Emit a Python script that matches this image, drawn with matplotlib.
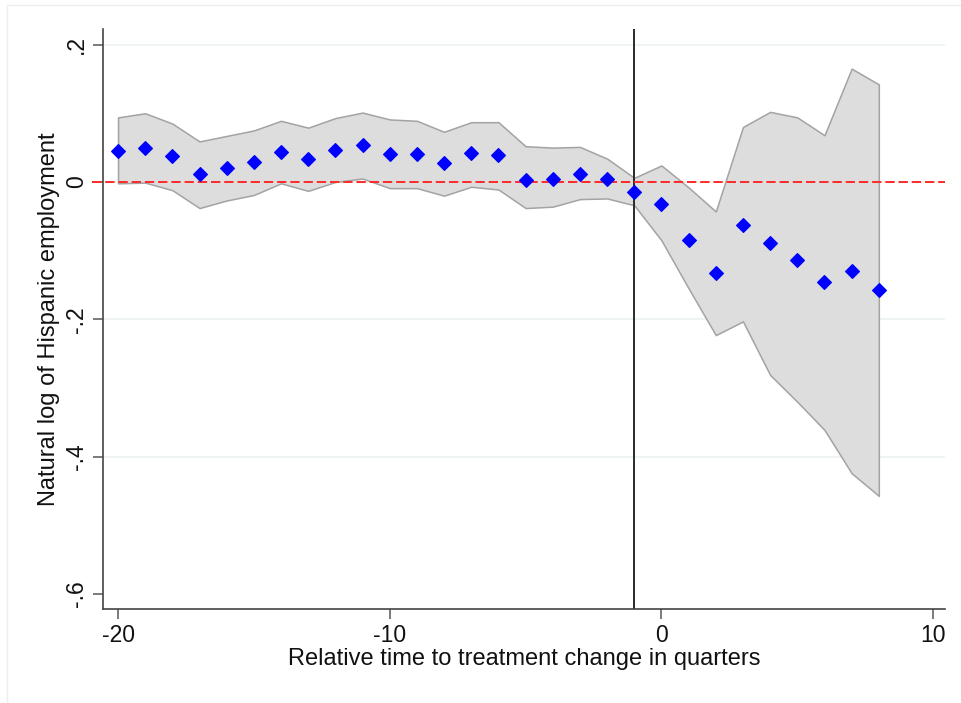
import matplotlib
matplotlib.use("Agg")
import matplotlib.pyplot as plt
from matplotlib.patches import Rectangle

plt.rcParams['font.family'] = ['Liberation Sans', 'DejaVu Sans']

# Event-time (quarters relative to treatment change)
rel_time = list(range(-20, 9))

# Point estimates
coef = [0.045, 0.050, 0.038, 0.011, 0.020, 0.029, 0.043, 0.033, 0.046, 0.054,
        0.041, 0.041, 0.027, 0.042, 0.039, 0.003, 0.004, 0.012, 0.004, -0.015,
        -0.032, -0.085, -0.133, -0.062, -0.089, -0.113, -0.146, -0.130, -0.158]

# Confidence interval bounds
ci_upper = [0.094, 0.100, 0.085, 0.059, 0.067, 0.075, 0.089, 0.079, 0.093, 0.101,
            0.091, 0.089, 0.073, 0.087, 0.087, 0.052, 0.050, 0.051, 0.034, 0.006,
            0.024, -0.008, -0.043, 0.080, 0.102, 0.094, 0.068, 0.165, 0.142]
ci_lower = [-0.002, -0.001, -0.012, -0.038, -0.027, -0.019, -0.002, -0.013, 0.000, 0.005,
            -0.009, -0.009, -0.020, -0.007, -0.011, -0.038, -0.036, -0.025, -0.024, -0.034,
            -0.085, -0.155, -0.223, -0.203, -0.281, -0.320, -0.361, -0.424, -0.457]

x_ticks = [-20, -10, 0, 10]
x_tick_labels = ["-20", "-10", "0", "10"]
y_ticks = [0.2, 0.0, -0.2, -0.4, -0.6]
y_tick_labels = [".2", "0", "-.2", "-.4", "-.6"]
grid_levels = [0.2, 0.0, -0.2, -0.4]
treatment_line = -1

fig = plt.figure(figsize=(9.61, 7.03), dpi=100)
ax = fig.add_axes([0.1069, 0.1333, 0.8765, 0.8254])

# faint outer frame of the graph region
fig.patches.append(Rectangle((7 / 961, -0.05), 1.1, 1 - 5 / 703 + 0.05,
                             transform=fig.transFigure, fill=False,
                             edgecolor="#eeeeee", linewidth=1.0, zorder=0))

for g in grid_levels:
    ax.axhline(g, color="#eaf0f1", linewidth=1.1, zorder=0)

ax.fill_between(rel_time, ci_lower, ci_upper, facecolor="#dddddd",
                edgecolor="#a3a3a3", linewidth=1.1, zorder=1)

ax.axvline(treatment_line, color="#2a2a2a", linewidth=1.4, zorder=2)
ax.axhline(0, xmin=-0.013, xmax=1, color="#ff2a2a", linewidth=1.4,
           linestyle=(0, (4.8, 2.0)), clip_on=False, zorder=3)

ax.plot(rel_time, coef, linestyle="none", marker="D", markersize=7,
        markerfacecolor="#0000ff", markeredgecolor="#0000ff",
        markeredgewidth=0.8, zorder=4)

ax.set_xlim(-20.563, 10.437)
ax.set_ylim(-0.6221, 0.2226)

ax.set_xticks(x_ticks)
ax.set_xticklabels(x_tick_labels)
ax.set_yticks(y_ticks)
ax.set_yticklabels(y_tick_labels, rotation=90, va="center")

for side in ("top", "right"):
    ax.spines[side].set_visible(False)
for side in ("left", "bottom"):
    ax.spines[side].set_color("#444444")
    ax.spines[side].set_linewidth(1.2)

ax.tick_params(axis="both", direction="out", length=7.5, width=1.1,
               color="#555555", labelsize=16.5, labelcolor="#111111")
ax.tick_params(axis="x", pad=3)
ax.tick_params(axis="y", pad=3)

ax.set_xlabel("Relative time to treatment change in quarters", fontsize=17,
              color="#111111", labelpad=1)
ax.set_ylabel("Natural log of Hispanic employment", fontsize=17,
              color="#111111", labelpad=4)

fig.savefig("out.png", dpi=100)
